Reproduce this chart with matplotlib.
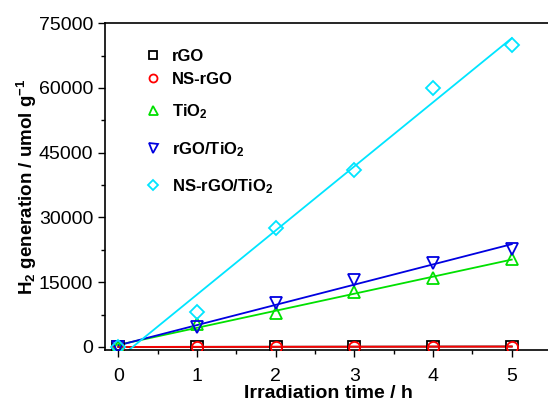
import numpy as np
import matplotlib
matplotlib.use("Agg")
import matplotlib.pyplot as plt
import matplotlib.transforms as mtransforms
from matplotlib.ticker import MultipleLocator

plt.rcParams['font.family'] = ['Liberation Sans', 'DejaVu Sans']
plt.rcParams['mathtext.fontset'] = 'custom'
plt.rcParams['mathtext.rm'] = 'Liberation Sans'
plt.rcParams['mathtext.bf'] = 'Liberation Sans:bold'
plt.rcParams['mathtext.default'] = 'bf'

# Irradiation time (h)
time_h = [0, 1, 2, 3, 4, 5]

# H2 generation (umol g^-1)
rgo = [0, 40, 60, 80, 90, 100]
ns_rgo = [0, 30, 50, 70, 80, 90]
tio2 = [0, 5400, 7800, 12700, 16000, 20300]
rgo_tio2 = [0, 4600, 10200, 15500, 19500, 22800]
ns_rgo_tio2 = [0, 8000, 27500, 41000, 60000, 70000]

labels = ["rGO", "NS-rGO", "TiO$_2$", "rGO/TiO$_2$", "NS-rGO/TiO$_2$"]
values = [rgo, ns_rgo, tio2, rgo_tio2, ns_rgo_tio2]
colors = ["black", "red", "#00e000", "#0000e0", "#00e5ff"]
markers = ["s", "o", "^", "v", "D"]
marker_sizes = [8, 8, 9, 9, 7]

# vertical positions of the key rows (axes fraction)
key_rows = [0.902, 0.832, 0.734, 0.618, 0.505]

fig = plt.figure(figsize=(5.48, 4.03), dpi=100)
ax = fig.add_axes([0.1916, 0.1315, 0.814, 0.811])

x = np.array(time_h, dtype=float)
for label, y, color, marker, ms in zip(labels, values, colors, markers, marker_sizes):
    y = np.array(y, dtype=float)
    slope, intercept = np.polyfit(x, y, 1)
    xf = np.array([x[0], x[-1]])
    ax.plot(xf, slope * xf + intercept, color=color, lw=1.3, zorder=2)
    ax.plot(x, y, linestyle="none", marker=marker, markersize=ms,
            markerfacecolor="none", markeredgecolor=color, markeredgewidth=1.3,
            zorder=3)

# hand-built key: symbol plus bold label per series
text_shift = mtransforms.ScaledTranslation(0, -6 / 100, fig.dpi_scale_trans)
for label, color, marker, ms, yk in zip(labels, colors, markers, marker_sizes, key_rows):
    ax.plot([0.108], [yk], transform=ax.transAxes, linestyle="none",
            marker=marker, markersize=ms * 0.72, markerfacecolor="none",
            markeredgecolor=color, markeredgewidth=1.3, clip_on=False)
    ax.text(0.150, yk, label, transform=ax.transAxes + text_shift,
            fontsize=12, fontweight="bold", va="baseline", ha="left")

ax.set_xlim(-0.17, 5.5)
ax.set_ylim(-700, 75000)
ax.xaxis.set_major_locator(MultipleLocator(1))
ax.xaxis.set_minor_locator(MultipleLocator(0.5))
ax.yaxis.set_major_locator(MultipleLocator(15000))
ax.yaxis.set_minor_locator(MultipleLocator(7500))
ax.tick_params(which="both", direction="out", top=False, right=False,
               width=1.0, labelsize=14)
ax.tick_params(which="major", length=5)
ax.tick_params(which="minor", length=3)
ax.tick_params(axis="x", which="major", pad=8)
for s in ax.spines.values():
    s.set_linewidth(1.2)

ax.set_xlabel("Irradiation time / h", fontsize=14, fontweight="bold", labelpad=0)
ax.set_ylabel("H$_2$ generation / umol g$^{-1}$", fontsize=13.5,
              fontweight="bold", labelpad=0)

fig.savefig("out.png", dpi=100)
